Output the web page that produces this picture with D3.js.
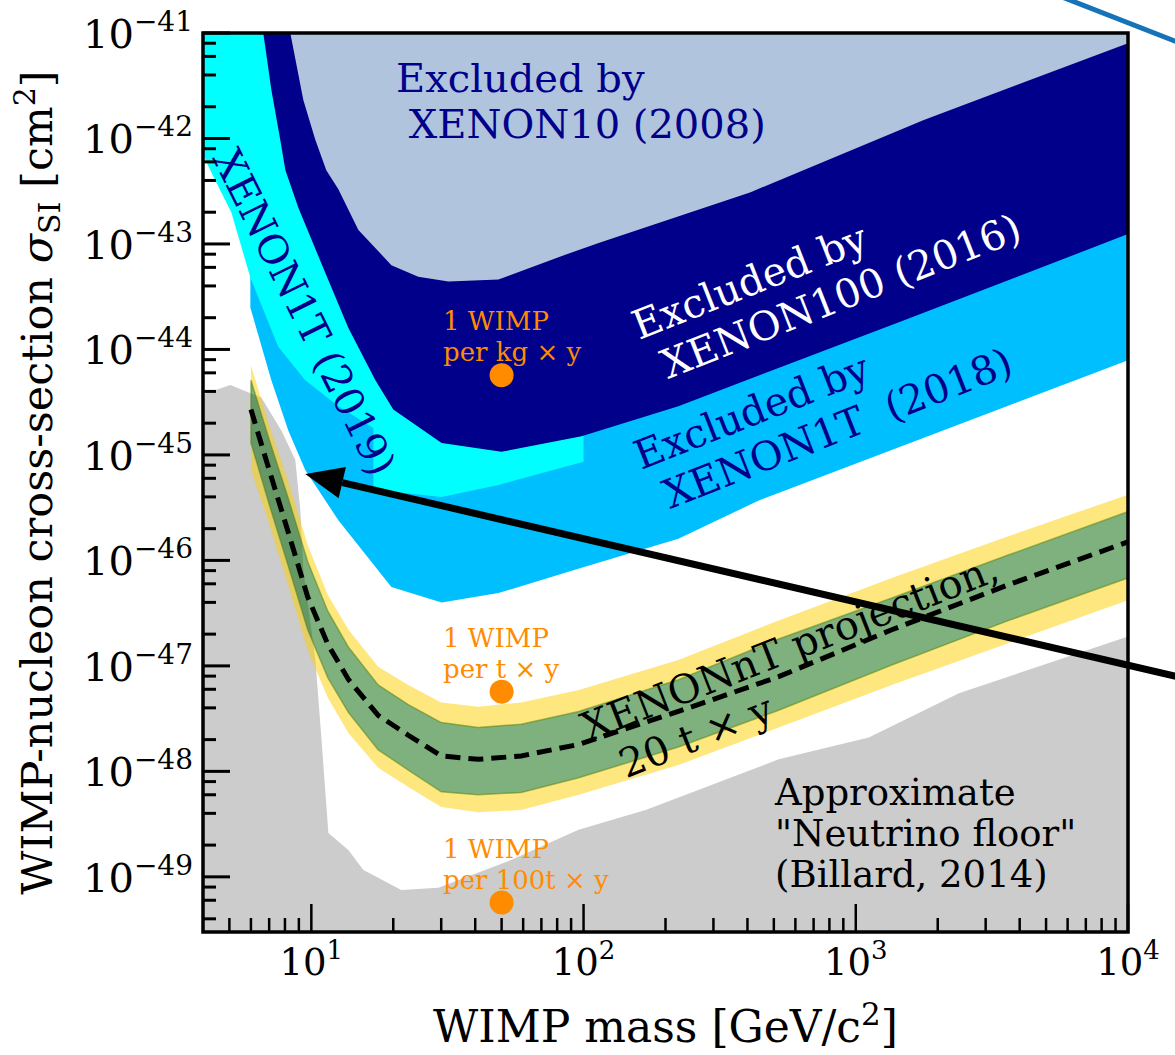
<!DOCTYPE html>
<html>
<head>
<meta charset="utf-8">
<script src="https://cdn.jsdelivr.net/npm/d3@7"></script>
<style>
  html, body { margin: 0; padding: 0; background: #fff; }
  svg { display: block; font-family: 'DejaVu Serif', serif; }
  text { white-space: pre; }
</style>
</head>
<body>
<div id="chart"></div>
<script>
// ---- data: [mass GeV/c^2, sigma cm^2] ----
const xenon10 = [[8.1, 1.6e-41], [8.37, 1e-41], [9.35, 2.3e-42], [10.35, 9.7e-43], [11.35, 5.0e-43],
  [12.57, 3.3e-43], [14.89, 1.36e-43], [19.68, 6.3e-44], [24.7, 4.9e-44], [31.9, 4.4e-44],
  [48.7, 4.6e-44], [80.9, 7.5e-44], [113.6, 1.02e-43], [411, 3.1e-43], [1778, 1.5e-42], [10000, 8.0e-42]];

const xenon100 = [[6.49, 1.65e-41], [6.66, 1e-41], [7.13, 2.9e-42], [7.69, 9.7e-43], [8.03, 5.0e-43],
  [8.96, 2.2e-43], [11.26, 5.3e-44], [13.68, 1.6e-44], [17.19, 5.1e-45], [20.0, 2.7e-45],
  [30.1, 1.3e-45], [49.9, 1.07e-45], [98.3, 1.5e-45], [223, 2.9e-45], [1514, 1.9e-44], [10000, 1.24e-43]];

const xenon1t2019 = [[3.71, 1.0e-42], [4.08, 6.3e-43], [4.44, 4.0e-43], [5.08, 2.0e-43], [5.97, 4.8e-44],
  [7.56, 1.06e-44], [9.50, 5.1e-45], [12.57, 2.9e-45], [16.9, 1.8e-45], [16.9, 4.7e-46],
  [30.1, 4.0e-46], [48.7, 5.2e-46], [100, 8.6e-46]];

const xenon1t2018 = [[5.97, 2.5e-44], [7.13, 5.1e-45], [8.23, 1.7e-45], [9.50, 7.2e-46], [12.57, 2.4e-46],
  [19.68, 5.6e-47], [30.1, 4.0e-47], [48.7, 4.9e-47], [98.3, 8.5e-47], [223, 1.6e-46],
  [440, 3.7e-46], [10000, 7.9e-45]];

const neutrinoFloor = [[3.8, 3.6e-45], [5.04, 4.6e-45], [6.55, 3.5e-45], [7.76, 1.7e-45], [8.73, 9.0e-46],
  [9.11, 3.0e-46], [9.35, 8.1e-47], [10.35, 1.14e-47], [10.9, 2.0e-48], [11.55, 2.6e-49],
  [13.68, 1.8e-49], [15.53, 1.16e-49], [17.6, 9.8e-50], [21.4, 7.5e-50], [29.3, 7.9e-50],
  [54.4, 1.45e-49], [95.9, 2.8e-49], [169, 4.3e-49], [521, 1.3e-48], [1116, 2.1e-48],
  [2393, 5.5e-48], [10000, 1.9e-47]];

// XENONnT projection (median and 1/2 sigma bands)
const ntMass = [6.0, 7.0, 8.2, 9.7, 11.5, 13.7, 17.6, 22.7, 30, 41, 59, 96, 223, 521, 1356, 3650, 10000];
const ntUpper2 = [7.1e-45, 1.9e-45, 5.8e-46, 1.4e-46, 4.7e-47, 2.2e-47, 9.8e-48, 6.6e-48, 4.5e-48, 4.1e-48, 4.5e-48, 5.9e-48, 1.14e-47, 2.7e-47, 6.8e-47, 1.7e-46, 4.2e-46];
const ntUpper1 = [5.1e-45, 1.4e-45, 4.0e-46, 9.7e-47, 3.3e-47, 1.5e-47, 6.6e-48, 4.3e-48, 2.9e-48, 2.6e-48, 2.8e-48, 3.7e-48, 7.4e-48, 1.8e-47, 4.4e-47, 1.13e-46, 2.9e-46];
const ntMedian = [2.7e-45, 7.2e-46, 1.9e-46, 4.5e-47, 1.6e-47, 7.4e-48, 3.4e-48, 2.2e-48, 1.4e-48, 1.3e-48, 1.4e-48, 1.8e-48, 3.7e-48, 7.9e-48, 2.2e-47, 5.9e-47, 1.5e-46];
const ntLower1 = [1.3e-45, 3.4e-46, 9.1e-47, 2.2e-47, 7.7e-48, 3.6e-48, 1.6e-48, 1.03e-48, 6.4e-49, 6.0e-49, 6.3e-49, 8.7e-49, 1.7e-48, 3.8e-48, 1.02e-47, 2.7e-47, 6.8e-47];
const ntLower2 = [7.2e-46, 2.2e-46, 5.9e-47, 1.4e-47, 5.0e-48, 2.3e-48, 1.08e-48, 7.1e-49, 4.6e-49, 4.1e-49, 4.3e-49, 6.0e-49, 1.15e-48, 2.6e-48, 6.6e-48, 1.65e-47, 4.2e-47];

// "1 WIMP per ..." reference points
const wimpMass = 50;
const wimpSigma = [5.7e-45, 5.7e-48, 5.7e-50];
const wimpLabels = ['per kg \u00d7 y', 'per t \u00d7 y', 'per 100t \u00d7 y'];

// axis ticks
const xMajor = [10, 100, 1000, 10000];
const yMajor = [1e-41, 1e-42, 1e-43, 1e-44, 1e-45, 1e-46, 1e-47, 1e-48, 1e-49];

// arrow tip pointing at the XENON1T (2019) result
const arrowTip = [9.5, 6.6e-46];

// ---- layout ----
const width = 1175, height = 1055;
const plot = { left: 203, right: 1128, top: 33, bottom: 932 };

const x = d3.scaleLog().domain([4, 1e4]).range([plot.left, plot.right]);
const y = d3.scaleLog().domain([3e-50, 1e-41]).range([plot.bottom, plot.top]);

const svg = d3.select('#chart')
  .append('svg')
  .attr('width', width)
  .attr('height', height);

svg.append('clipPath').attr('id', 'plot-clip')
  .append('rect')
  .attr('x', plot.left).attr('y', plot.top)
  .attr('width', plot.right - plot.left)
  .attr('height', plot.bottom - plot.top);

const g = svg.append('g').attr('clip-path', 'url(#plot-clip)');

const TOP = 1e-40, BOTTOM = 1e-51;
const line = d3.line().x(d => x(d[0])).y(d => y(d[1]));

// region above a limit curve
function excluded(curve) {
  const first = curve[0], last = curve[curve.length - 1];
  return line([...curve, [last[0], TOP], [first[0], TOP]]) + 'Z';
}

g.append('path').attr('d', excluded(xenon1t2018)).attr('fill', '#00bfff');
g.append('path').attr('d', excluded(xenon1t2019)).attr('fill', '#00ffff');
g.append('path').attr('d', excluded(xenon100)).attr('fill', '#00008b');
g.append('path').attr('d', excluded(xenon10)).attr('fill', '#b0c4de');

// neutrino floor, filled downwards
const nfFirst = neutrinoFloor[0], nfLast = neutrinoFloor[neutrinoFloor.length - 1];
g.append('path')
  .attr('d', line([...neutrinoFloor, [nfLast[0], BOTTOM], [nfFirst[0], BOTTOM]]) + 'Z')
  .attr('fill', '#cccccc');

// projection bands
function band(upper, lower) {
  return d3.area()
    .x((d, i) => x(ntMass[i]))
    .y0((d, i) => y(lower[i]))
    .y1((d, i) => y(upper[i]))(ntMass);
}

g.append('path').attr('d', band(ntUpper2, ntUpper1))
  .attr('fill', '#ffcf00').attr('fill-opacity', 0.5);
g.append('path').attr('d', band(ntLower1, ntLower2))
  .attr('fill', '#ffcf00').attr('fill-opacity', 0.5);
g.append('path').attr('d', band(ntUpper1, ntLower1))
  .attr('fill', '#006400').attr('fill-opacity', 0.5)
  .attr('stroke', '#4f7f00').attr('stroke-opacity', 0.5).attr('stroke-width', 1.5);

g.append('path')
  .attr('d', d3.line().x((d, i) => x(ntMass[i])).y((d, i) => y(ntMedian[i]))(ntMass))
  .attr('fill', 'none')
  .attr('stroke', '#000')
  .attr('stroke-width', 5)
  .attr('stroke-dasharray', '15,8');

// reference points
g.selectAll('circle.wimp')
  .data(wimpSigma)
  .enter()
  .append('circle')
  .attr('class', 'wimp')
  .attr('cx', x(wimpMass))
  .attr('cy', d => y(d))
  .attr('r', 12)
  .attr('fill', '#ff8c00');

wimpSigma.forEach((s, i) => {
  const t = g.append('text')
    .attr('x', 443)
    .attr('y', y(s) - 45)
    .style('font-size', '26px')
    .attr('fill', '#ff8c00');
  t.append('tspan').attr('x', 443).text('1 WIMP');
  t.append('tspan').attr('x', 443).attr('dy', 31).text(wimpLabels[i]);
});

// ---- annotations ----
function multiline(parent, lines, opts) {
  const t = parent.append('text')
    .attr('transform', `translate(${opts.x},${opts.y}) rotate(${opts.rotate || 0})`)
    .style('font-size', opts.size + 'px')
    .attr('fill', opts.color);
  lines.forEach((l, i) => {
    t.append('tspan')
      .attr('x', opts.indent && opts.indent[i] ? opts.indent[i] : 0)
      .attr('y', i * opts.lead)
      .text(l);
  });
  return t;
}

multiline(g, ['Excluded by', ' XENON10 (2008)'], { x: 396, y: 92, size: 40, color: '#00008b', lead: 46 });
multiline(g, ['Excluded by', ' XENON100 (2016)'], { x: 639, y: 340, rotate: -21.5, size: 40, color: '#ffffff', lead: 47 });
multiline(g, ['Excluded by', ' XENON1T  (2018)'], { x: 641, y: 470, rotate: -21.5, size: 40, color: '#00008b', lead: 47 });
multiline(g, ['XENON1T (2019)'], { x: 212, y: 158, rotate: 63.5, size: 40, color: '#00008b', lead: 46 });
multiline(g, ['XENONnT projection,', '20 t \u00d7 y'], { x: 588, y: 742, rotate: -21.5, size: 40, color: '#000', lead: 48, indent: [0, 22] });
multiline(g, ['Approximate', '"Neutrino floor"', '(Billard, 2014)'], { x: 775, y: 805, size: 37, color: '#000', lead: 41 });

// ---- arrow from outside the axes ----
const tip = [x(arrowTip[0]), y(arrowTip[1])];
const tail = [1200, 682];
const ang = Math.atan2(tail[1] - tip[1], tail[0] - tip[0]);
const headLen = 38, headHalf = 16;
const base = [tip[0] + headLen * Math.cos(ang), tip[1] + headLen * Math.sin(ang)];
svg.append('line')
  .attr('x1', base[0]).attr('y1', base[1])
  .attr('x2', tail[0]).attr('y2', tail[1])
  .attr('stroke', '#000').attr('stroke-width', 7);
svg.append('path')
  .attr('d', `M${tip[0]},${tip[1]}L${base[0] - headHalf * Math.sin(ang)},${base[1] + headHalf * Math.cos(ang)}L${base[0] + headHalf * Math.sin(ang)},${base[1] - headHalf * Math.cos(ang)}Z`)
  .attr('fill', '#000');

// neighbouring panel's line peeking in at top right
svg.append('line')
  .attr('x1', 1062).attr('y1', -3).attr('x2', 1185).attr('y2', 45)
  .attr('stroke', '#1673b7').attr('stroke-width', 5);

// ---- axes: ticks inward on left and bottom ----
const axes = svg.append('g');

const yMinor = [];
for (let k = -50; k <= -42; k++) {
  [2, 4, 6, 8].forEach(m => {
    const v = m * Math.pow(10, k);
    if (v > 3e-50 && v < 1e-41) yMinor.push(v);
  });
}
const xMinor = [];
for (let k = 0; k <= 3; k++) {
  [2, 3, 4, 5, 6, 7, 8, 9].forEach(m => {
    const v = m * Math.pow(10, k);
    if (v > 4 && v < 1e4) xMinor.push(v);
  });
}

axes.selectAll('line.ymaj').data(yMajor).enter().append('line')
  .attr('x1', plot.left).attr('x2', plot.left + 27)
  .attr('y1', d => y(d)).attr('y2', d => y(d))
  .attr('stroke', '#000').attr('stroke-width', 3);
axes.selectAll('line.ymin').data(yMinor).enter().append('line')
  .attr('x1', plot.left).attr('x2', plot.left + 13)
  .attr('y1', d => y(d)).attr('y2', d => y(d))
  .attr('stroke', '#000').attr('stroke-width', 3);
axes.selectAll('line.xmaj').data(xMajor).enter().append('line')
  .attr('y1', plot.bottom).attr('y2', plot.bottom - 28)
  .attr('x1', d => x(d)).attr('x2', d => x(d))
  .attr('stroke', '#000').attr('stroke-width', 2.5);
axes.selectAll('line.xmin').data(xMinor).enter().append('line')
  .attr('y1', plot.bottom).attr('y2', plot.bottom - 14)
  .attr('x1', d => x(d)).attr('x2', d => x(d))
  .attr('stroke', '#000').attr('stroke-width', 2.5);

axes.append('rect')
  .attr('x', plot.left).attr('y', plot.top)
  .attr('width', plot.right - plot.left)
  .attr('height', plot.bottom - plot.top)
  .attr('fill', 'none')
  .attr('stroke', '#000')
  .attr('stroke-width', 3.5);

// tick labels
yMajor.forEach(v => {
  const e = Math.round(Math.log10(v));
  const t = axes.append('text')
    .attr('x', plot.left - 10)
    .attr('y', y(v) + 15)
    .attr('text-anchor', 'end')
    .style('font-size', '40px');
  t.append('tspan').text('10');
  t.append('tspan').attr('dy', -17).style('font-size', '28px').text('\u2212' + Math.abs(e));
});
xMajor.forEach(v => {
  const e = Math.round(Math.log10(v));
  const t = axes.append('text')
    .attr('x', x(v))
    .attr('y', plot.bottom + 43)
    .attr('text-anchor', 'middle')
    .style('font-size', '37px');
  t.append('tspan').text('10');
  t.append('tspan').attr('dy', -16).style('font-size', '26px').text(String(e));
});

// axis titles
const xt = svg.append('text')
  .attr('x', (plot.left + plot.right) / 2)
  .attr('y', 1042)
  .attr('text-anchor', 'middle')
  .style('font-size', '44px');
xt.append('tspan').text('WIMP mass [GeV/c');
xt.append('tspan').attr('dy', -17).style('font-size', '31px').text('2');
xt.append('tspan').attr('dy', 17).text(']');

const yt = svg.append('text')
  .attr('transform', `translate(52,${(plot.top + plot.bottom) / 2}) rotate(-90)`)
  .attr('text-anchor', 'middle')
  .style('font-size', '43px');
yt.append('tspan').text('WIMP-nucleon cross-section ');
yt.append('tspan').style('font-style', 'italic').text('\u03c3');
yt.append('tspan').attr('dy', 8).style('font-size', '30px').text('SI');
yt.append('tspan').attr('dy', -8).text(' [cm');
yt.append('tspan').attr('dy', -17).style('font-size', '30px').text('2');
yt.append('tspan').attr('dy', 17).text(']');
</script>
</body>
</html>
